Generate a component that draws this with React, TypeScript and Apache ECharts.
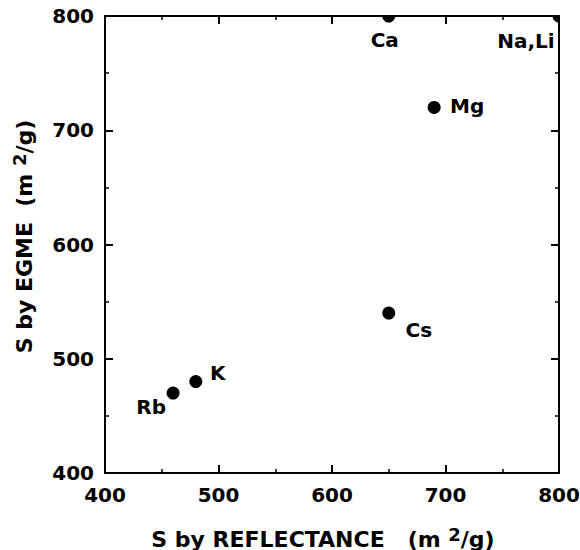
import React, { useEffect, useRef } from "react";
import * as echarts from "echarts";

const elements = ["Rb", "K", "Cs", "Mg", "Ca", "Na,Li"];
const reflectance = [460, 480, 650, 690, 650, 800];
const egme = [470, 480, 540, 720, 800, 800];
const axisTicks = [400, 500, 600, 700, 800];

// label offsets (style)
const labelOffsets: Record<string, [number, number]> = {
  Rb: [-22, 14],
  K: [22, -9],
  Cs: [30, 17],
  Mg: [33, -1],
  Ca: [-4, 24],
  "Na,Li": [-33, 25],
};

const FONT = "DejaVu Sans";

export default function App() {
  const ref = useRef<HTMLDivElement>(null);
  useEffect(() => {
    if (!ref.current) return;
    const chart = echarts.init(ref.current, undefined, { renderer: "svg" });
    const pts = reflectance.map((x, i) => [x, egme[i], i]);
    const axisMin = axisTicks[0];
    const axisMax = axisTicks[axisTicks.length - 1];
    const lineStyle = { color: "#000", width: 2 };
    const common = {
      type: "value",
      min: axisMin,
      max: axisMax,
      interval: 100,
      splitLine: { show: false },
      axisLine: { show: true, onZero: false, lineStyle },
      axisTick: { show: true, inside: true, length: 8, lineStyle },
      minorTick: { show: true, splitNumber: 2, length: 4, lineStyle: { color: "#000", width: 1.5 } },
    };
    const labelStyle = { color: "#000", fontFamily: FONT, fontWeight: "bold", fontSize: 20 };
    const rich = {
      a: { fontFamily: FONT, fontWeight: "bold", fontSize: 22, color: "#000", lineHeight: 25, verticalAlign: "bottom" },
      s: { fontFamily: FONT, fontWeight: "bold", fontSize: 18, color: "#000", lineHeight: 20, verticalAlign: "top", padding: [0, 0, 10, 0] },
    };
    chart.setOption({
      animation: false,
      backgroundColor: "#fff",
      grid: { left: 105, right: 21, top: 16, bottom: 77, outerBoundsMode: "none", containLabel: false },
      xAxis: [
        {
          ...common,
          position: "bottom",
          axisLabel: { ...labelStyle, margin: 12 },
          name: "{a|S by REFLECTANCE   (m }{s|2}{a|/g)}",
          nameLocation: "middle",
          nameGap: 52,
          nameTextStyle: { rich, padding: [0, 18, 0, 0] },
        },
        { ...common, position: "top", axisLabel: { show: false } },
      ],
      yAxis: [
        {
          ...common,
          position: "left",
          axisLabel: { ...labelStyle, margin: 11 },
          name: "{a|S by EGME  (m }{s|2}{a|/g)}",
          nameLocation: "middle",
          nameGap: 70,
          nameTextStyle: { rich, padding: [0, 0, 0, 16] },
        },
        { ...common, position: "right", axisLabel: { show: false } },
      ],
      series: [
        {
          type: "custom",
          clip: true,
          xAxisIndex: 0,
          yAxisIndex: 0,
          data: pts,
          encode: { x: 0, y: 1 },
          renderItem: (params: any, api: any) => {
            const p = api.coord([api.value(0), api.value(1)]);
            const name = elements[api.value(2)];
            const off = labelOffsets[name];
            return {
              type: "group",
              children: [
                { type: "circle", shape: { cx: p[0], cy: p[1], r: 6.5 }, style: { fill: "#000" } },
                {
                  type: "text",
                  x: p[0] + off[0],
                  y: p[1] + off[1],
                  style: {
                    text: name,
                    fill: "#000",
                    font: `bold 20px "${FONT}"`,
                    align: "center",
                    verticalAlign: "middle",
                  },
                },
              ],
            };
          },
        },
      ],
    });
    return () => chart.dispose();
  }, []);
  return (
    <div
      ref={ref}
      style={{ position: "fixed", left: 0, top: 0, width: 580, height: 550, background: "#fff" }}
    />
  );
}
